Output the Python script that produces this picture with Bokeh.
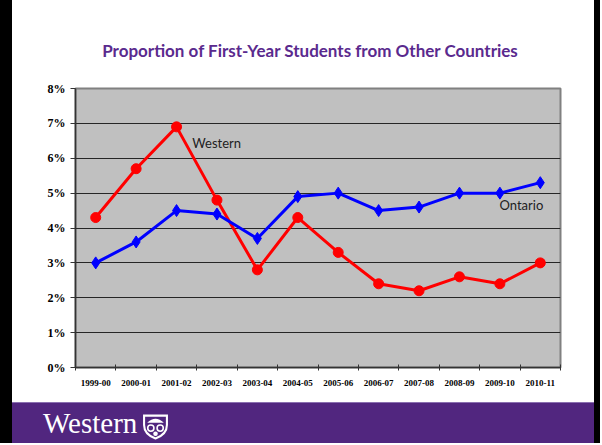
from bokeh.plotting import figure
from bokeh.models import Label, Div, FixedTicker, PrintfTickFormatter, Range1d
from bokeh.layouts import row, column
from bokeh.embed import file_html
from bokeh.resources import INLINE

years = ["1999-00", "2000-01", "2001-02", "2002-03", "2003-04", "2004-05",
         "2005-06", "2006-07", "2007-08", "2008-09", "2009-10", "2010-11"]
western = [4.3, 5.7, 6.9, 4.8, 2.8, 4.3, 3.3, 2.4, 2.2, 2.6, 2.4, 3.0]
ontario = [3.0, 3.6, 4.5, 4.4, 3.7, 4.9, 5.0, 4.5, 4.6, 5.0, 5.0, 5.3]
y_ticks = [0, 1, 2, 3, 4, 5, 6, 7, 8]
title_text = "Proportion of First-Year Students from Other Countries"

n = len(years)
xs = [i + 0.5 for i in range(n)]

p = figure(width=582, height=337, x_range=Range1d(0, n), y_range=Range1d(0, 8),
           output_backend="svg", toolbar_location=None,
           min_border_left=63, min_border_right=34, min_border_top=23, min_border_bottom=35)
p.background_fill_color = "#c0c0c0"
p.border_fill_color = "white"
p.outline_line_color = "#808080"
p.outline_line_width = 2

p.xgrid.grid_line_color = None
p.ygrid.ticker = FixedTicker(ticks=y_ticks)
p.ygrid.grid_line_color = "#262626"
p.ygrid.grid_line_width = 1.2

p.yaxis.ticker = FixedTicker(ticks=y_ticks)
p.yaxis.formatter = PrintfTickFormatter(format="%d%%")
p.yaxis.major_label_text_font = "Liberation Serif"
p.yaxis.major_label_text_font_style = "bold"
p.yaxis.major_label_text_font_size = "12px"
p.yaxis.major_label_text_color = "black"
p.yaxis.major_tick_in = 0
p.yaxis.major_tick_out = 5
p.yaxis.minor_tick_line_color = None
p.yaxis.axis_line_color = "#333333"
p.yaxis.axis_line_width = 1.5
p.yaxis.major_tick_line_color = "#333333"
p.yaxis.major_label_standoff = 5

p.xaxis.ticker = FixedTicker(ticks=xs, minor_ticks=list(range(n + 1)))
p.xaxis.major_label_overrides = {x: y for x, y in zip(xs, years)}
p.xaxis.major_label_text_font = "Liberation Serif"
p.xaxis.major_label_text_font_style = "bold"
p.xaxis.major_label_text_font_size = "9px"
p.xaxis.major_label_text_color = "black"
p.xaxis.major_tick_line_color = None
p.xaxis.minor_tick_in = 3
p.xaxis.minor_tick_out = 3
p.xaxis.minor_tick_line_color = "#333333"
p.xaxis.axis_line_color = "#333333"
p.xaxis.axis_line_width = 1.5
p.xaxis.major_label_standoff = 6

p.line(xs, western, line_color="#ff0000", line_width=3)
p.scatter(xs, western, marker="circle", size=10, fill_color="#ff0000", line_color="#ff0000")
p.line(xs, ontario, line_color="#0000ff", line_width=3)
p.scatter(xs, ontario, marker="diamond", size=12, fill_color="#0000ff", line_color="#0000ff")

p.add_layout(Label(x=2.89, y=6.45, text="Western", text_font="Lato", text_font_size="13px",
                   text_color="#222222", text_baseline="middle", text_align="left"))
p.add_layout(Label(x=10.49, y=4.67, text="Ontario", text_font="Lato", text_font_size="13px",
                   text_color="#222222", text_baseline="middle", text_align="left"))


def block(w, h, color):
    return Div(width=w, height=h, margin=0,
               text=f'<div style="width:{w}px;height:{h}px;background:{color}"></div>')


title_div = Div(width=582, height=60, margin=0,
                text=('<div style="position:relative;width:582px;height:60px;background:white">'
                      '<div style="position:absolute;left:0;top:35px;width:596px;text-align:center;'
                      'font-family:Lato;font-weight:bold;font-size:17px;line-height:22px;color:#5a2a8e">'
                      + title_text + '</div></div>'))

shield = ('<svg width="27" height="27" viewBox="0 0 26 25" style="position:absolute;left:130px;top:10px">'
          '<path d="M2 2 H24 V11 Q24 20 13 24 Q2 20 2 11 Z" fill="none" stroke="white" stroke-width="2"/>'
          '<path d="M5 9 Q13 1 21 9" fill="white"/>'
          '<circle cx="8.5" cy="14" r="3" fill="none" stroke="white" stroke-width="1.5"/>'
          '<circle cx="17.5" cy="14" r="3" fill="none" stroke="white" stroke-width="1.5"/>'
          '<circle cx="13" cy="19.5" r="2.2" fill="white"/>'
          '</svg>')
footer = Div(width=582, height=41, margin=0,
             text=('<div style="position:relative;width:582px;height:41px;overflow:hidden;'
                   'background:#51267f;border-top:1px solid #8a6fb0;box-sizing:border-box">'
                   '<span style="position:absolute;left:31px;top:6px;font-family:\'Liberation Serif\';'
                   'font-size:29px;line-height:29px;color:white">Western</span>' + shield + '</div>'))

layout = row(block(12, 443, "black"),
             column(block(582, 5, "black"), title_div, p, footer, spacing=0),
             block(6, 443, "black"), spacing=0)

open("out.html", "w").write(file_html(layout, INLINE))
